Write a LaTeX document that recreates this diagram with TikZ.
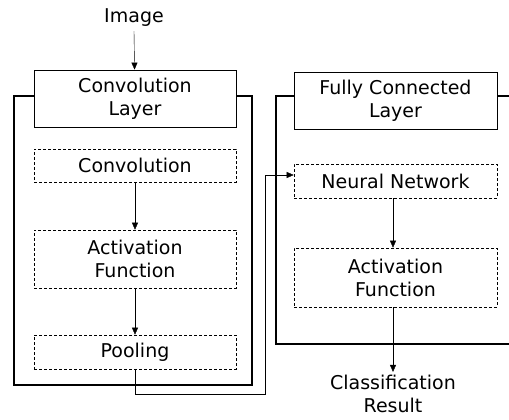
\documentclass[tikz,border=0pt]{standalone}
\usepackage{fontspec}
\setmainfont{DejaVu Sans}
\usetikzlibrary{arrows.meta}
\begin{document}
\begin{tikzpicture}[x=1pt, y=-1pt, >={Triangle[length=7pt,width=6pt]},
	every node/.style={font=\fontsize{19}{23}\selectfont, align=center, inner sep=0pt},
	layer/.style={draw, fill=white, line width=0.8pt, minimum height=57pt},
	part/.style={draw, dashed, dash pattern=on 3pt off 2pt, line width=0.6pt, fill=white},
	frame/.style={line width=1.6pt}]
		\useasboundingbox (0,0) rectangle (509,420);
		% frames
		\draw[frame] (14,96) rectangle (252,385);
		\draw[frame] (509,96) -- (276,96) -- (276,344) -- (509,344);
		% left column
		\node (img) at (134,18) {Image};
		\node[layer, minimum width=202pt] (convlayer) at (135,98.5) {Convolution\\Layer};
		\node[part, minimum width=202pt, minimum height=33pt] (conv) at (135,165.5) {Convolution};
		\node[part, minimum width=202pt, minimum height=58pt] (act-1) at (135,259) {Activation\\Function};
		\node[part, minimum width=202pt, minimum height=34pt] (pool) at (135,352) {Pooling};
		% right column
		\node[layer, minimum width=203pt] (fclayer) at (395.5,100.5) {Fully Connected\\Layer};
		\node[part, minimum width=203pt, minimum height=34pt] (nn) at (395.5,181) {Neural Network};
		\node[part, minimum width=203pt, minimum height=59pt] (act-2) at (395.5,277.5) {Activation\\Function};
		\node (result) at (393,394) {Classification\\Result};
		\coordinate (turn) at (265,394);
		% connectors
		\draw[->] ([yshift=-4pt]img.south) -- (convlayer);
		\draw[->] (conv) -- (act-1);
		\draw[->] (act-1) -- (pool);
		\draw[->] (pool.south) |- (turn) |- ([yshift=6pt]nn.west);
		\draw[->] (nn.south -| result) -- (act-2.north -| result);
		\draw[->] (act-2.south -| result) -- ([yshift=3pt]result.north);
	\end{tikzpicture}
\end{document}
